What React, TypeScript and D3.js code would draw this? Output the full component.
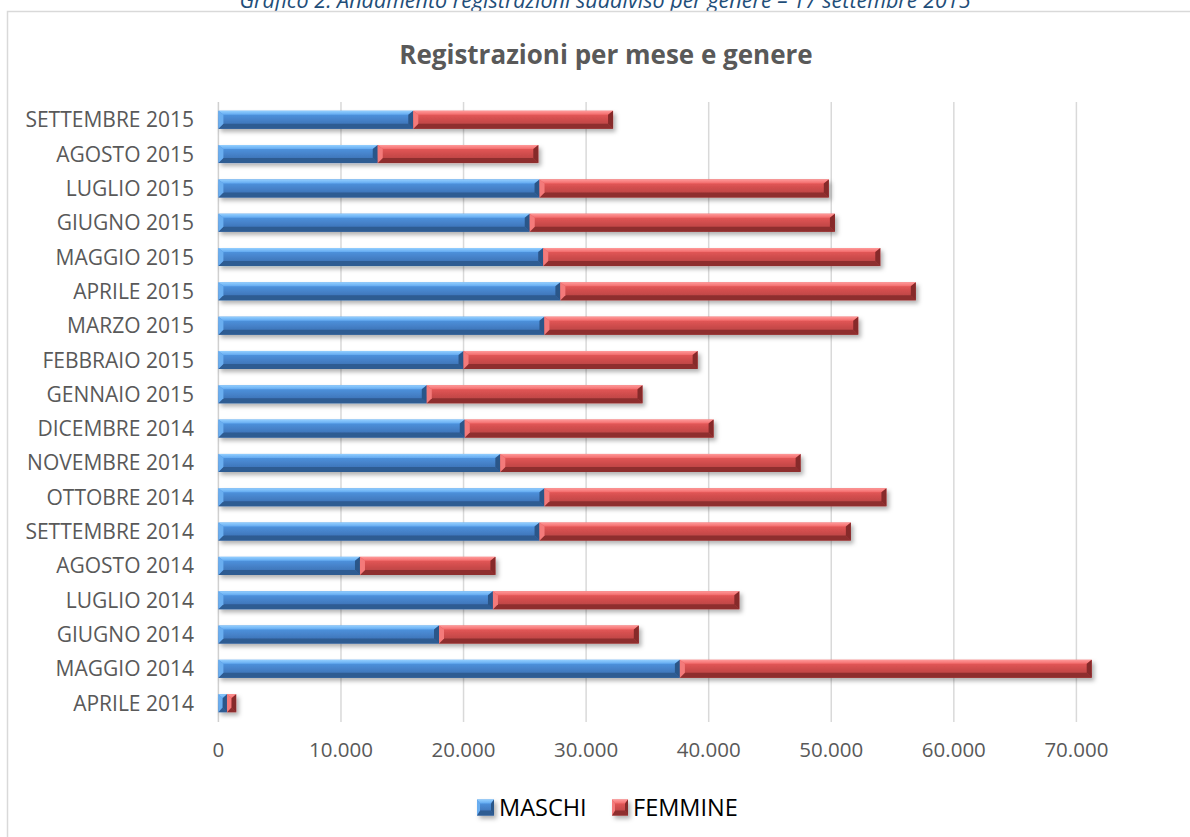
import React from "react";
import * as d3 from "d3";

const categories = [
  "SETTEMBRE 2015", "AGOSTO 2015", "LUGLIO 2015", "GIUGNO 2015", "MAGGIO 2015",
  "APRILE 2015", "MARZO 2015", "FEBBRAIO 2015", "GENNAIO 2015", "DICEMBRE 2014",
  "NOVEMBRE 2014", "OTTOBRE 2014", "SETTEMBRE 2014", "AGOSTO 2014", "LUGLIO 2014",
  "GIUGNO 2014", "MAGGIO 2014", "APRILE 2014",
];
const maschi = [15900, 13000, 26200, 25400, 26500, 27900, 26600, 20000, 17000, 20100, 23000, 26600, 26200, 11550, 22400, 18000, 37650, 700];
const femmine = [16300, 13100, 23600, 24900, 27500, 29000, 25600, 19100, 17600, 20300, 24500, 27900, 25400, 11050, 20100, 16300, 33600, 750];
const seriesNames = ["MASCHI", "FEMMINE"];
const xTicks = [0, 10000, 20000, 30000, 40000, 50000, 60000, 70000];

const FONT = "'Open Sans', 'Noto Sans', sans-serif";

const palettes = {
  MASCHI: { topA: "#93cfff", topB: "#62a9f0", midA: "#4e92dd", midB: "#3c70b3", bottom: "#2f5b92", left: "#6aaef0", right: "#2c5689" },
  FEMMINE: { topA: "#ff9a9a", topB: "#f26a6a", midA: "#e35656", midB: "#b84242", bottom: "#8e2f2f", left: "#f47a7a", right: "#86292a" },
};

function Bevel({ x0, x1, y0, y1, name, b = 5 }: any) {
  const p = (palettes as any)[name];
  const w = x1 - x0;
  const bx = Math.min(b, w / 2);
  const bt = Math.min(4, (y1 - y0) / 2);
  const bb = Math.min(5, (y1 - y0) / 2);
  const pts = (arr: number[][]) => arr.map((a) => a.join(",")).join(" ");
  return (
    <g>
      <rect x={x0} y={y0} width={w} height={y1 - y0} fill={`url(#mid-${name})`} />
      <polygon points={pts([[x0, y0], [x1, y0], [x1 - bx, y0 + bt], [x0 + bx, y0 + bt]])} fill={`url(#top-${name})`} />
      <polygon points={pts([[x0, y1], [x1, y1], [x1 - bx, y1 - bb], [x0 + bx, y1 - bb]])} fill={p.bottom} />
      <polygon points={pts([[x0, y0], [x0 + bx, y0 + bt], [x0 + bx, y1 - bb], [x0, y1]])} fill={p.left} />
      <polygon points={pts([[x1, y0], [x1, y1], [x1 - bx, y1 - bb], [x1 - bx, y0 + bt]])} fill={p.right} />
    </g>
  );
}

export default function App() {
  const W = 1190, H = 837;
  const x = d3.scaleLinear().domain([0, 70000]).range([218.4, 1076.4]);
  const y = d3.scaleBand().domain(categories).range([102.6, 720.3]).paddingInner(0.475).paddingOuter(0.2375);
  const locale = d3.formatLocale({ decimal: ",", thousands: ".", grouping: [3], currency: ["€", ""] });
  const fmt = locale.format(",.0f");

  const rows = categories.map((c, i) => ({ cat: c, MASCHI: maschi[i], FEMMINE: femmine[i] }));
  const stack = d3.stack<any>().keys(seriesNames)(rows);

  return (
    <div style={{ position: "absolute", left: 0, top: 0 }}>
      <svg width={W} height={H} style={{ display: "block", background: "#fff" }}>
        <defs>
          {seriesNames.map((n) => {
            const p = (palettes as any)[n];
            return (
              <React.Fragment key={n}>
                <linearGradient id={`top-${n}`} x1="0" y1="0" x2="0" y2="1">
                  <stop offset="0" stopColor={p.topA} />
                  <stop offset="1" stopColor={p.topB} />
                </linearGradient>
                <linearGradient id={`mid-${n}`} x1="0" y1="0" x2="0" y2="1">
                  <stop offset="0.2" stopColor={p.midA} />
                  <stop offset="0.85" stopColor={p.midB} />
                </linearGradient>
              </React.Fragment>
            );
          })}
          <filter id="shadow" x="-5%" y="-50%" width="110%" height="200%">
            <feDropShadow dx="2.5" dy="3" stdDeviation="2" floodColor="#000" floodOpacity="0.3" />
          </filter>
        </defs>

        <text x={605} y={8} textAnchor="middle" fontFamily={FONT} fontStyle="italic" fontSize={21.5} fill="#1f4e79">
          Grafico 2: Andamento registrazioni suddiviso per genere – 17 settembre 2015
        </text>

        <rect x={7.5} y={11.5} width={1300} height={1000} fill="#fff" stroke="#d9d9d9" strokeWidth={1.5} />

        <text x={606} y={64} textAnchor="middle" fontFamily={FONT} fontWeight="bold" fontSize={26} fill="#595959">
          Registrazioni per mese e genere
        </text>

        {xTicks.map((t) => (
          <line key={t} x1={x(t)} x2={x(t)} y1={102} y2={722} stroke={t === 0 ? "#d0d0d0" : "#d9d9d9"} strokeWidth={1.5} />
        ))}

        {categories.map((c) => (
          <text key={c} x={194} y={(y(c) as number) + y.bandwidth() / 2} dy="0.36em" textAnchor="end"
            fontFamily={FONT} fontSize={21} fill="#595959">
            {c}
          </text>
        ))}

        <g filter="url(#shadow)">
          {stack.map((s) =>
            s.map((d: any) => (
              <Bevel key={s.key + d.data.cat} name={s.key}
                x0={x(d[0])} x1={x(d[1])}
                y0={y(d.data.cat) as number} y1={(y(d.data.cat) as number) + y.bandwidth()} />
            ))
          )}
        </g>

        {xTicks.map((t) => (
          <text key={t} x={x(t)} y={757} textAnchor="middle" fontFamily={FONT} fontSize={20.5} fill="#595959">
            {fmt(t)}
          </text>
        ))}

        <g filter="url(#shadow)">
          <Bevel name="MASCHI" x0={477} x1={494} y0={799.5} y1={815.5} b={3} />
          <Bevel name="FEMMINE" x0={612} x1={628} y0={799.5} y1={815.5} b={3} />
        </g>
        <text x={499} y={816} fontFamily={FONT} fontSize={23.5} fill="#000">MASCHI</text>
        <text x={633} y={816} fontFamily={FONT} fontSize={23.5} fill="#000">FEMMINE</text>
      </svg>
    </div>
  );
}
